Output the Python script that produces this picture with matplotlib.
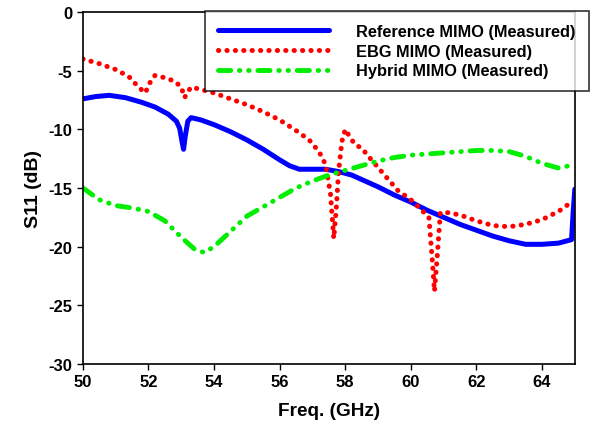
import matplotlib.pyplot as plt

plt.rcParams['font.family'] = ['Liberation Sans', 'DejaVu Sans']
plt.rcParams['font.weight'] = 'bold'
plt.rcParams['axes.unicode_minus'] = False

# Reference MIMO (Measured)
ref_freq = [50.0, 50.4, 50.8, 51.3, 51.8, 52.2, 52.6, 52.85, 52.95, 53.02, 53.07, 53.12, 53.2, 53.3,
            53.6, 54.0, 54.5, 55.0, 55.5, 56.0, 56.3, 56.6, 57.0, 57.4, 57.8, 58.2, 58.6, 59.0,
            59.5, 60.0, 60.5, 61.0, 61.5, 62.0, 62.5, 63.0, 63.5, 64.0, 64.5, 64.9, 64.95, 65.0]
ref_s11 = [-7.4, -7.2, -7.1, -7.3, -7.7, -8.1, -8.7, -9.3, -9.9, -11.0, -11.7, -10.6, -9.3, -9.0,
           -9.2, -9.6, -10.2, -10.9, -11.7, -12.6, -13.1, -13.4, -13.4, -13.4, -13.6, -13.9, -14.4, -14.9,
           -15.6, -16.2, -16.9, -17.5, -18.1, -18.6, -19.1, -19.5, -19.8, -19.8, -19.7, -19.4, -17.0, -15.1]

# EBG MIMO (Measured)
ebg_freq = [50.0, 50.5, 51.0, 51.4, 51.7, 51.9, 52.05, 52.2, 52.5, 52.8, 53.0, 53.1, 53.2, 53.3,
            53.6, 54.0, 54.5, 55.0, 55.5, 56.0, 56.5, 56.9, 57.2, 57.4, 57.55, 57.65, 57.72, 57.8,
            57.9, 58.0, 58.15, 58.3, 58.5, 58.8, 59.2, 59.6, 60.0, 60.3, 60.55, 60.65, 60.72, 60.8,
            60.9, 61.2, 61.6, 62.0, 62.5, 63.0, 63.5, 64.0, 64.5, 64.9]
ebg_s11 = [-4.0, -4.4, -4.9, -5.5, -6.4, -6.9, -6.0, -5.4, -5.6, -5.9, -6.4, -7.3, -6.8, -6.4,
           -6.6, -6.9, -7.4, -7.9, -8.5, -9.2, -10.1, -10.9, -11.9, -13.0, -15.5, -19.3, -17.0, -13.5,
           -11.0, -10.0, -10.7, -11.3, -11.6, -12.6, -13.9, -15.2, -16.0, -16.8, -17.5, -21.0, -23.8, -21.0,
           -17.1, -17.1, -17.4, -17.8, -18.2, -18.3, -18.1, -17.7, -17.0, -16.2]

# Hybrid MIMO (Measured)
hyb_freq = [50.0, 50.5, 51.0, 51.5, 52.0, 52.5, 53.0, 53.4, 53.7, 54.0, 54.5, 55.0, 55.5, 56.0,
            56.5, 57.0, 57.5, 58.0, 58.5, 59.0, 59.5, 60.0, 60.5, 61.0, 61.5, 62.0, 62.5, 63.0,
            63.5, 64.0, 64.5, 65.0]
hyb_s11 = [-15.0, -16.0, -16.5, -16.7, -17.0, -17.8, -19.2, -20.2, -20.5, -20.0, -18.7, -17.4, -16.6, -15.8,
           -15.0, -14.4, -13.9, -13.5, -13.1, -12.7, -12.4, -12.2, -12.1, -12.0, -11.9, -11.8, -11.8, -11.9,
           -12.3, -12.9, -13.3, -13.0]

fig, ax = plt.subplots(figsize=(5.92, 4.35), dpi=100)
fig.subplots_adjust(left=0.140, right=0.971, bottom=0.161, top=0.970)

ax.plot(ref_freq, ref_s11, color='#0000ff', linewidth=3.6, solid_capstyle='round',
        label='Reference MIMO (Measured)')
ax.plot(ebg_freq, ebg_s11, color='#ff0000', linewidth=3.6, linestyle=(0, (0.05, 1.63)),
        dash_capstyle='round', label='EBG MIMO (Measured)')
ax.plot(hyb_freq, hyb_s11, color='#00ee00', linewidth=3.5,
        linestyle=(0, (2.5, 1.8, 0.1, 1.8, 0.1, 1.8)), dash_capstyle='round',
        label='Hybrid MIMO (Measured)')

ax.set_xlim(50, 65)
ax.set_ylim(-30, 0)
ax.set_xticks(range(50, 65, 2))
ax.set_yticks(range(-30, 1, 5))
ax.tick_params(direction='out', length=4, width=1, labelsize=12)
for lbl in ax.get_xticklabels() + ax.get_yticklabels():
    lbl.set_fontweight('bold')
for sp in ax.spines.values():
    sp.set_linewidth(1.2)

ax.set_xlabel('Freq. (GHz)', fontsize=13.7, fontweight='bold', labelpad=9)
ax.set_ylabel('S11 (dB)', fontsize=14, fontweight='bold', labelpad=5)

leg = ax.legend(loc='upper right', bbox_to_anchor=(1.0285, 1.003), fontsize=11.8,
                handlelength=6.8, frameon=True, fancybox=False, edgecolor='black',
                borderpad=0.8, labelspacing=0.28, handletextpad=1.65, borderaxespad=0)
leg.get_frame().set_linewidth(1.2)
for t in leg.get_texts():
    t.set_fontweight('bold')

plt.savefig('out.png', dpi=100)
